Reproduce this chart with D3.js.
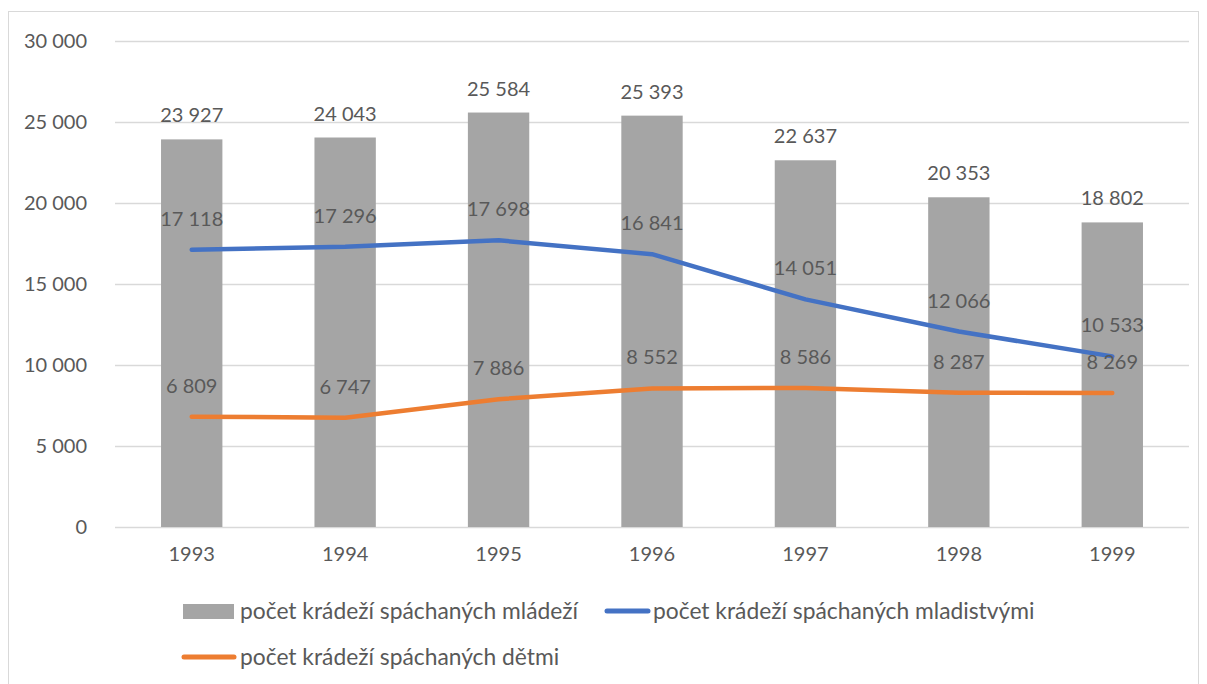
<!DOCTYPE html>
<html>
<head>
<meta charset="utf-8">
<script src="https://cdn.jsdelivr.net/npm/d3@7"></script>
<style>
  body { margin: 0; background: #fff; }
  svg text { font-family: Lato, "Open Sans", sans-serif; fill: #595959; }
</style>
</head>
<body>
<div id="chart"></div>
<script>
const years = ["1993", "1994", "1995", "1996", "1997", "1998", "1999"];
const mladez = [23927, 24043, 25584, 25393, 22637, 20353, 18802];
const mladistvi = [17118, 17296, 17698, 16841, 14051, 12066, 10533];
const deti = [6809, 6747, 7886, 8552, 8586, 8287, 8269];
const yTicks = [0, 5000, 10000, 15000, 20000, 25000, 30000];
const seriesNames = [
    "počet krádeží spáchaných mládeží",
    "počet krádeží spáchaných mladistvými",
    "počet krádeží spáchaných dětmi"
];

const W = 1207, H = 684;
const margin = { top: 41, right: 18, bottom: 157, left: 115 };
const width = W - margin.left - margin.right,
    height = H - margin.top - margin.bottom;
const FS = 20;

// thousands with a space, like the original
let fmt = function(v) {
    return d3.format(",")(v).replace(/,/g, " ");
}

const svg = d3.select("#chart")
    .append("svg")
    .attr("width", W)
    .attr("height", H);

// outer frame
svg.append("rect")
    .attr("x", 8.5).attr("y", 11.5)
    .attr("width", 1190).attr("height", 680)
    .attr("fill", "none")
    .attr("stroke", "#d9d9d9");

const g = svg.append("g")
    .attr("transform", "translate(" + margin.left + "," + margin.top + ")");

const x = d3.scaleBand()
    .domain(years)
    .range([0, width])
    .paddingInner(0.6)
    .paddingOuter(0.3);

const y = d3.scaleLinear()
    .domain([0, 30000])
    .range([height, 0]);

// gridlines
g.append("g")
    .selectAll("line")
    .data(yTicks)
    .join("line")
    .attr("x1", 0).attr("x2", width)
    .attr("y1", d => Math.round(y(d)) + 0.5)
    .attr("y2", d => Math.round(y(d)) + 0.5)
    .attr("stroke", "#d9d9d9")
    .attr("stroke-width", 1.3);

// y axis labels
const yAxis = g.append("g")
    .attr("transform", "translate(-25,0)")
    .call(d3.axisLeft(y).tickValues(yTicks).tickFormat(fmt).tickSize(0));
yAxis.select(".domain").remove();
yAxis.selectAll("text")
    .attr("font-size", FS)
    .attr("fill", "#595959");

// x axis labels
const xAxis = g.append("g")
    .attr("transform", "translate(0," + height + ")")
    .call(d3.axisBottom(x).tickSize(0).tickPadding(20));
xAxis.select(".domain").remove();
xAxis.selectAll("text")
    .attr("font-size", FS)
    .attr("fill", "#595959");

// bars
g.append("g")
    .selectAll("rect")
    .data(mladez)
    .join("rect")
    .attr("x", (d, i) => x(years[i]))
    .attr("y", d => y(d))
    .attr("width", x.bandwidth())
    .attr("height", d => height - y(d))
    .attr("fill", "#a5a5a5");

g.append("g")
    .selectAll("text")
    .data(mladez)
    .join("text")
    .attr("x", (d, i) => x(years[i]) + x.bandwidth() / 2)
    .attr("y", d => y(d) - 17)
    .attr("text-anchor", "middle")
    .attr("font-size", FS)
    .attr("fill", "#404040")
    .text(fmt);

// lines
const cx = i => x(years[i]) + x.bandwidth() / 2;
const line = d3.line()
    .x((d, i) => cx(i))
    .y(d => y(d));

[[mladistvi, "#4472c4"], [deti, "#ed7d31"]].forEach(function(s) {
    g.append("path")
        .datum(s[0])
        .attr("fill", "none")
        .attr("stroke", s[1])
        .attr("stroke-width", 4.5)
        .attr("stroke-linecap", "round")
        .attr("stroke-linejoin", "round")
        .attr("d", line);

    g.append("g")
        .selectAll("text")
        .data(s[0])
        .join("text")
        .attr("x", (d, i) => cx(i))
        .attr("y", d => y(d) - 24)
        .attr("text-anchor", "middle")
        .attr("font-size", FS)
        .attr("fill", "#404040")
        .text(fmt);
});

// legend
const LFS = 22.8;
const legend = svg.append("g");
legend.append("rect")
    .attr("x", 183).attr("y", 604)
    .attr("width", 51).attr("height", 15)
    .attr("fill", "#a5a5a5");
legend.append("text")
    .attr("x", 240).attr("y", 619)
    .attr("font-size", LFS)
    .text(seriesNames[0]);

legend.append("line")
    .attr("x1", 607).attr("x2", 648)
    .attr("y1", 611).attr("y2", 611)
    .attr("stroke", "#4472c4")
    .attr("stroke-width", 5)
    .attr("stroke-linecap", "round");
legend.append("text")
    .attr("x", 653).attr("y", 619)
    .attr("font-size", LFS)
    .text(seriesNames[1]);

legend.append("line")
    .attr("x1", 184).attr("x2", 234)
    .attr("y1", 657).attr("y2", 657)
    .attr("stroke", "#ed7d31")
    .attr("stroke-width", 5)
    .attr("stroke-linecap", "round");
legend.append("text")
    .attr("x", 240).attr("y", 665)
    .attr("font-size", LFS)
    .text(seriesNames[2]);
</script>
</body>
</html>
